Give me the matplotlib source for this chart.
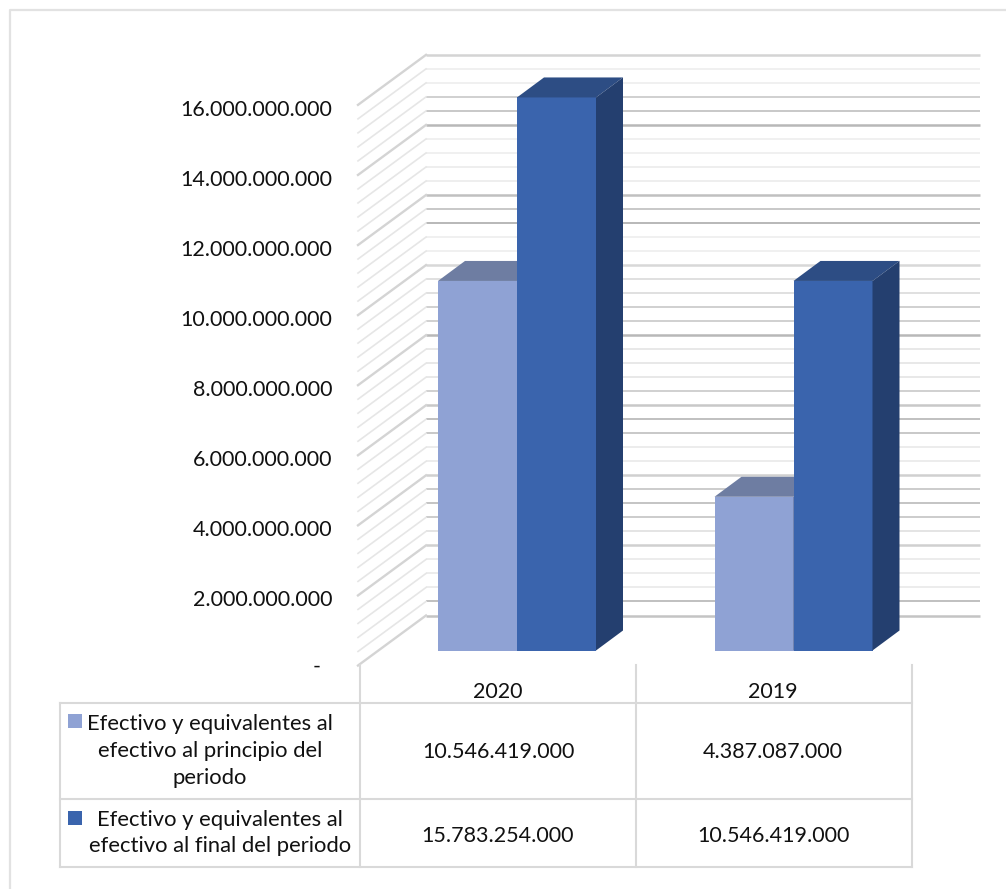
import matplotlib
matplotlib.use('Agg')
import matplotlib.pyplot as plt
import numpy as np

plt.rcParams['font.family'] = ['Lato', 'DejaVu Sans']

categories = ['2020', '2019']
series_names = ['Efectivo y equivalentes al\nefectivo al principio del\nperiodo',
                'Efectivo y equivalentes al\nefectivo al final del periodo']
inicio = [10546419000, 4387087000]
final = [15783254000, 10546419000]
inicio_labels = ['10.546.419.000', '4.387.087.000']
final_labels = ['15.783.254.000', '10.546.419.000']
tick_values = [2e9, 4e9, 6e9, 8e9, 10e9, 12e9, 14e9, 16e9]
tick_labels = ['2.000.000.000', '4.000.000.000', '6.000.000.000', '8.000.000.000',
               '10.000.000.000', '12.000.000.000', '14.000.000.000', '16.000.000.000']

# greys of the back wall lines, top line first
grid_greys = ['#d4d4d4', '#f0f0f0', '#f0f0f0', '#d0d0d0', '#c8c8c8', '#b8b8b8', '#f0f0f0', '#f0f0f0',
              '#eeeeee', '#eeeeee', '#c0c0c0', '#c8c8c8', '#b8b8b8', '#f0f0f0', '#f0f0f0', '#d8d8d8',
              '#e0e0e0', '#e0e0e0', '#d0d0d0', '#d0d0d0', '#b8b8b8', '#e8e8e8', '#e8e8e8', '#e8e8e8',
              '#d0d0d0', '#c8c8c8', '#c0c0c0', '#c8c8c8', '#ececec', '#ececec', '#d0d0d0', '#cccccc',
              '#c4c4c4', '#cccccc', '#e4e4e4', '#d0d0d0', '#ececec', '#ececec', '#ececec', '#c0c0c0',
              '#c4c4c4']

W, H = 1006, 889
fig = plt.figure(figsize=(W / 100, H / 100), dpi=100)

# scale of the chart: 35.04 px per 1e9, baseline of the bars at pixel row 650.5
sy = 35.04 / 1e9
base = 650.5
sx = 276.5
x0 = 517
ax = fig.add_axes([0, 0, 1, 1])
ax.set_xlim((0 - x0) / sx, (W - x0) / sx)
ax.set_ylim((base - H) / sy, base / sy)
ax.axis('off')

# wall lines
front_dy = -15 / sy
back_dy = 35 / sy
x_front = (358 - x0) / sx
x_back = (426 - x0) / sx
x_end = (980 - x0) / sx
grid_vals = np.arange(16e9, -1, -0.4e9)
for i, v in enumerate(grid_vals):
    major = i % 5 == 0
    ax.plot([x_back, x_end], [v + back_dy, v + back_dy], color=grid_greys[i],
            lw=1.8 if major else 1.4, zorder=1, solid_capstyle='butt')
    ax.plot([x_front, x_back], [v + front_dy, v + back_dy], color='#d4d4d4' if major else '#e6e6e6',
            lw=1.7 if major else 1.2, zorder=1)

# bars with their top and side faces
bw = 79 / sx
ddx = 27 / sx
ddy = 20 / sy
xpos = np.arange(len(categories))


def bar3d(x, v, front, top, side, z):
    ax.bar(x, v, width=bw, align='edge', color=front, zorder=z)
    ax.fill([x, x + ddx, x + bw + ddx, x + bw], [v, v + ddy, v + ddy, v], color=top, lw=0, zorder=z)
    ax.fill([x + bw, x + bw + ddx, x + bw + ddx, x + bw], [0, ddy, v + ddy, v], color=side, lw=0, zorder=z)


for i in xpos:
    bar3d(i - bw, inicio[i], '#8FA2D4', '#6E7DA2', '#56678F', 3)
    bar3d(i, final[i], '#3A64AD', '#2D4D84', '#243F6F', 4)

# pixel overlay for frame, table and texts
ov = fig.add_axes([0, 0, 1, 1])
ov.set_xlim(0, W)
ov.set_ylim(H, 0)
ov.axis('off')
ov.patch.set_alpha(0)

line_c = '#d9d9d9'
ov.plot([10, 10, W], [H, 10, 10], color='#e2e2e2', lw=1.6)
for xv, (y1, y2) in {60: (703, 867), 360: (665, 867), 636: (665, 867), 912: (665, 867)}.items():
    ov.plot([xv, xv], [y1, y2], color=line_c, lw=1.5)
for yv in [703, 799, 867]:
    ov.plot([60, 912], [yv, yv], color=line_c, lw=1.5)

fs = 15.5
for v, lab in zip(tick_values, tick_labels):
    ypx = base - v * sy + 15 + 5
    ov.text(332.5, ypx, lab, ha='right', va='center', fontsize=fs, color='#111111')
ov.text(317, 667, '-', ha='center', va='center', fontsize=fs, color='#111111')

for xc, cat, a, b in zip([498, 773], categories, inicio_labels, final_labels):
    ov.text(xc, 691.5, cat, ha='center', va='center', fontsize=fs, color='#111111')
    ov.text(xc, 752, a, ha='center', va='center', fontsize=fs, color='#111111')
    ov.text(xc, 836, b, ha='center', va='center', fontsize=fs, color='#111111')

ov.text(210, 751, series_names[0], ha='center', va='center', fontsize=15.8, linespacing=1.42, color='#111111')
ov.text(220, 833, series_names[1], ha='center', va='center', fontsize=15.8, linespacing=1.42, color='#111111')
ov.add_patch(plt.Rectangle((68, 714), 14, 14, color='#8FA2D4', lw=0))
ov.add_patch(plt.Rectangle((68, 811), 14, 14, color='#3A64AD', lw=0))

fig.savefig('out.png', dpi=100, facecolor='white')
